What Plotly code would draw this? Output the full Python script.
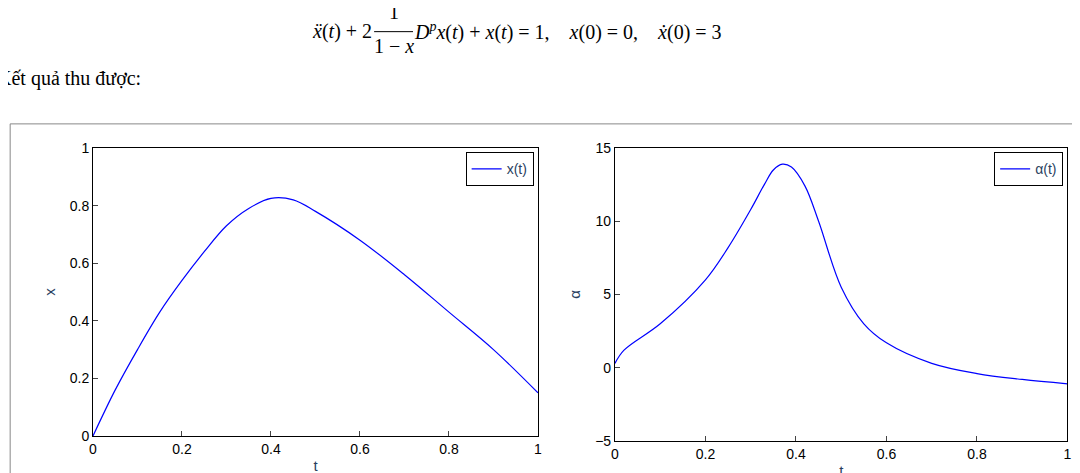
import plotly.graph_objects as go

t_x = [0, 0.05, 0.1, 0.15, 0.2, 0.25, 0.3, 0.35, 0.4, 0.45, 0.5, 0.6, 0.7, 0.8, 0.9, 1.0]
x_vals = [0, 0.16, 0.3, 0.43, 0.54, 0.64, 0.73, 0.79, 0.825, 0.82, 0.78, 0.68, 0.56, 0.43, 0.3, 0.15]
t_a = [0, 0.02, 0.1, 0.2, 0.25, 0.3, 0.33, 0.35, 0.37, 0.39, 0.42, 0.45, 0.5, 0.55, 0.6, 0.7, 0.8, 0.9, 1.0]
a_vals = [0.3, 1.2, 3, 6, 8.2, 10.8, 12.5, 13.5, 13.9, 13.7, 12.4, 10, 5.5, 3, 1.7, 0.3, -0.4, -0.8, -1.1]

fig = go.Figure()
fig.add_trace(go.Scatter(x=t_x, y=x_vals, mode="lines", line=dict(color="#0000ff", width=1.2),
                         name="x(t)", legend="legend", xaxis="x", yaxis="y", line_shape="spline",
                         showlegend=True))
fig.add_trace(go.Scatter(x=t_a, y=a_vals, mode="lines", line=dict(color="#0000ff", width=1.2),
                         name="α(t)", legend="legend2", xaxis="x2", yaxis="y2", line_shape="spline",
                         showlegend=True))

ax = dict(showline=True, linecolor="black", mirror=True, ticks="inside", ticklen=5, automargin=False,
          showgrid=False, zeroline=False, tickfont=dict(family="Arial", size=14, color="black"))
tv = [0, 0.2, 0.4, 0.6, 0.8, 1]
tt = ["0", "0.2", "0.4", "0.6", "0.8", "1"]
fig.update_layout(
    width=1080, height=473, margin=dict(l=0, r=0, t=0, b=0),
    paper_bgcolor="white", plot_bgcolor="white", showlegend=True,
    xaxis=dict(ax, domain=[0.0787, 0.4907], range=[0, 1], tickvals=tv, ticktext=tt, anchor="y",
               title=dict(text="t", font=dict(family="Arial", size=15), standoff=4)),
    yaxis=dict(ax, domain=[0.0952, 0.704], range=[0, 1], tickvals=tv, ticktext=tt, anchor="x",
               title=dict(text="x", font=dict(family="Arial", size=15), standoff=10)),
    xaxis2=dict(ax, domain=[0.562, 0.981], range=[0, 1], tickvals=tv, ticktext=tt, anchor="y2",
                title=dict(text="t", font=dict(family="Arial", size=15), standoff=4)),
    yaxis2=dict(ax, domain=[0.0846, 0.704], range=[-5, 15], tickvals=[-5, 0, 5, 10, 15], anchor="x2",
                title=dict(text="α", font=dict(family="Arial", size=15), standoff=10)),
    legend=dict(x=0.4867, y=0.695, xanchor="right", yanchor="top", bordercolor="black", borderwidth=1,
                font=dict(family="Arial", size=14), bgcolor="white"),
    legend2=dict(x=0.977, y=0.695, xanchor="right", yanchor="top", bordercolor="black", borderwidth=1,
                 font=dict(family="Arial", size=14), bgcolor="white"),
    shapes=[dict(type="rect", xref="paper", yref="paper", x0=0.002, x1=0.998, y0=-0.01, y1=0.755,
                 line=dict(color="#888888", width=1))],
)
serif = dict(family="Liberation Serif", size=20, color="black")
fig.add_annotation(xref="paper", yref="paper", x=0.357, y=1.02, xanchor="center", yanchor="top",
                   text="1", showarrow=False, font=serif)
fig.add_shape(type="line", xref="paper", yref="paper", x0=0.339, x1=0.375, y0=0.95, y1=0.95,
              line=dict(color="black", width=1))
fig.add_annotation(xref="paper", yref="paper", x=0.357, y=0.948, xanchor="center", yanchor="top",
                   text="1 − <i>x</i>", showarrow=False, font=serif)
fig.add_annotation(xref="paper", yref="paper", x=0.339, y=0.95, xanchor="right", yanchor="middle",
                   text="<i>ẍ</i>(<i>t</i>) + 2", showarrow=False, font=serif)
fig.add_annotation(xref="paper", yref="paper", x=0.374, y=0.95, xanchor="left", yanchor="middle",
                   text="<i>D<sup>p</sup>x</i>(<i>t</i>) + <i>x</i>(<i>t</i>) = 1,    <i>x</i>(0) = 0,    <i>ẋ</i>(0) = 3",
                   showarrow=False, font=serif)
fig.add_annotation(xref="paper", yref="paper", x=-0.012, y=0.852, xanchor="left", yanchor="middle",
                   text="Kết quả thu được:", showarrow=False,
                   font=dict(family="Liberation Serif", size=20, color="black"))
fig.write_html("out.html")
